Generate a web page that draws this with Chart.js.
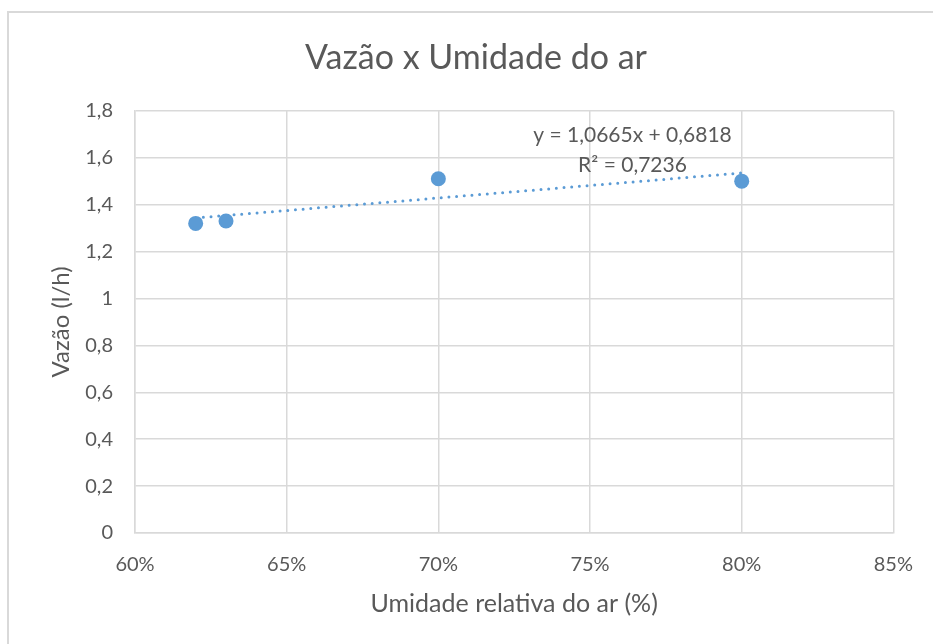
<!DOCTYPE html>
<html>
<head>
<meta charset="utf-8">
<title>Vazão x Umidade do ar</title>
<script src="https://cdn.jsdelivr.net/npm/chart.js@4.4.1/dist/chart.umd.min.js"></script>
<style>
  body { margin: 0; background: #fff; }
  #wrap { width: 933px; height: 644px; position: relative; }
</style>
</head>
<body>
<div id="wrap"><canvas id="chart" width="933" height="644"></canvas></div>
<script>
// dados
const umidade = [0.62, 0.63, 0.70, 0.80];
const vazao = [1.32, 1.33, 1.51, 1.50];

// linha de tendência (equação mostrada no gráfico)
const slope = 1.0665;
const intercept = 0.6818;
const eqLines = ['y = 1,0665x + 0,6818', 'R² = 0,7236'];
const eqPos = { x: 0.764, y: [1.695, 1.568] };

const xTicks = [0.60, 0.65, 0.70, 0.75, 0.80, 0.85];
const yTicks = [0, 0.2, 0.4, 0.6, 0.8, 1, 1.2, 1.4, 1.6, 1.8];

const textColor = '#595959';
const gridColor = '#d9d9d9';
const blue = '#5b9bd5';
const fontFamily = 'Lato, "Open Sans", sans-serif';

const points = umidade.map((u, i) => ({ x: u, y: vazao[i] }));
const xMin = Math.min(...umidade);
const xMax = Math.max(...umidade);
const trend = [
  { x: xMin, y: slope * xMin + intercept },
  { x: xMax, y: slope * xMax + intercept }
];

function fmtNum(v) {
  return String(Number(v.toFixed(1))).replace('.', ',');
}

// moldura cinza clara do gráfico + texto da equação
const extras = {
  id: 'extras',
  beforeDraw(chart) {
    const c = chart.ctx;
    c.save();
    c.fillStyle = '#fff';
    c.fillRect(0, 0, chart.width, chart.height);
    c.strokeStyle = gridColor;
    c.lineWidth = 2;
    c.strokeRect(8, 12, chart.width + 20, chart.height + 20);
    c.restore();
  },
  afterDatasetsDraw(chart) {
    const c = chart.ctx;
    const xs = chart.scales.x, ys = chart.scales.y;
    c.save();
    c.font = '21px ' + fontFamily;
    c.fillStyle = textColor;
    c.textAlign = 'center';
    c.textBaseline = 'middle';
    eqLines.forEach((t, i) => {
      c.fillText(t, xs.getPixelForValue(eqPos.x), ys.getPixelForValue(eqPos.y[i]));
    });
    c.restore();
  }
};

new Chart(document.getElementById('chart'), {
  type: 'scatter',
  data: {
    datasets: [
      {
        label: 'Vazão',
        data: points,
        backgroundColor: blue,
        borderColor: blue,
        borderWidth: 0,
        pointRadius: 7.5,
        pointHoverRadius: 7.5,
        order: 0
      },
      {
        label: 'Linear (Vazão)',
        type: 'line',
        data: trend,
        borderColor: blue,
        borderWidth: 3,
        borderDash: [0, 7.7],
        borderCapStyle: 'round',
        pointRadius: 0,
        fill: false,
        order: 1
      }
    ]
  },
  options: {
    responsive: false,
    animation: false,
    layout: { padding: { top: 0, right: 0, bottom: 0, left: 19 } },
    plugins: {
      legend: { display: false },
      tooltip: { enabled: false },
      title: {
        display: true,
        text: 'Vazão x Umidade do ar',
        color: textColor,
        font: { family: fontFamily, size: 34, weight: 'normal' },
        padding: { top: 38, bottom: 32 }
      }
    },
    scales: {
      x: {
        type: 'linear',
        min: 0.6,
        max: 0.85,
        afterBuildTicks(scale) { scale.ticks = xTicks.map(v => ({ value: v })); },
        afterFit(scale) { scale.height = 111; },
        grid: { color: gridColor, lineWidth: 1.5, drawTicks: false },
        border: { color: gridColor, width: 1.5 },
        ticks: {
          color: textColor,
          padding: 20,
          font: { family: fontFamily, size: 20 },
          callback: v => Math.round(v * 100) + '%'
        },
        title: {
          display: true,
          text: 'Umidade relativa do ar (%)',
          color: textColor,
          font: { family: fontFamily, size: 25 },
          padding: { top: 0, bottom: 25 }
        }
      },
      y: {
        min: 0,
        max: 1.8,
        afterBuildTicks(scale) { scale.ticks = yTicks.map(v => ({ value: v })); },
        afterFit(scale) { scale.width = 116; },
        grid: { color: gridColor, lineWidth: 1.5, drawTicks: false },
        border: { color: gridColor, width: 1.5 },
        ticks: {
          color: textColor,
          padding: 22,
          font: { family: fontFamily, size: 20 },
          callback: v => fmtNum(v)
        },
        title: {
          display: true,
          text: 'Vazão (l/h)',
          color: textColor,
          font: { family: fontFamily, size: 24 },
          padding: { top: 28, bottom: 0 }
        }
      },
      // eixo vazio à direita só para reservar a margem
      y2: {
        position: 'right',
        display: true,
        afterFit(scale) { scale.width = 39; },
        grid: { display: false },
        border: { display: false },
        ticks: { display: false }
      }
    }
  },
  plugins: [extras]
});
</script>
</body>
</html>
